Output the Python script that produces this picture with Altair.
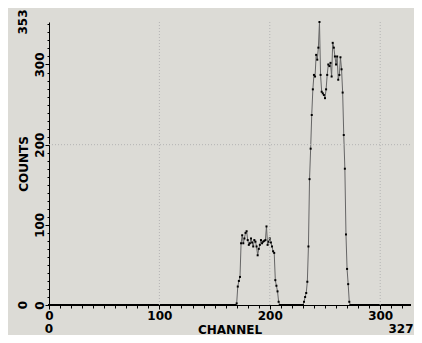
import altair as alt
import pandas as pd

# ---- data ----
n_channels = 328
peak1_start = 170
peak1_counts = [2, 23, 30, 35, 77, 87, 77, 83, 90, 92, 81, 75, 77, 83, 78, 73, 81, 79, 73, 62,
                70, 75, 81, 77, 79, 80, 81, 98, 75, 79, 83, 78, 73, 67, 65, 31, 24, 17, 4]
peak2_start = 231
peak2_counts = [4, 10, 15, 29, 73, 157, 195, 237, 269, 287, 285, 312, 306, 321, 353, 287, 266,
                264, 262, 258, 269, 287, 300, 298, 302, 285, 327, 321, 310, 300, 310, 281, 287,
                309, 294, 265, 212, 170, 88, 45, 26, 4]

x_minor_step = 10
y_minor_step = 10
x_grid = [100, 200, 300]
y_grid = [200]
x_range_labels = [0, 327]
y_range_labels = [0, 353]
x_domain = [0, 327]
y_domain = [0, 353]

counts = [0] * n_channels
for i, v in enumerate(peak1_counts):
    counts[peak1_start + i] = v
for i, v in enumerate(peak2_counts):
    counts[peak2_start + i] = v

df = pd.DataFrame({"channel": list(range(n_channels)), "counts": counts})

W, H = 361, 283
FONT = "DejaVu Sans"
ROW2 = 24  # offset of the second label row below the x axis

xscale = alt.Scale(domain=x_domain, nice=False, zero=False)
yscale = alt.Scale(domain=y_domain, nice=False, zero=False)

x_axis = alt.Axis(
    values=list(range(0, 328, x_minor_step)),
    labelExpr="datum.value % 100 === 0 ? datum.label : ''",
    tickSize={"condition": {"test": "datum.value % 100 === 0", "value": 4}, "value": 3},
    format="d", labelOverlap=False, labelFlush=False, grid=False,
    labelFont=FONT, labelFontSize=12, labelFontWeight="bold", labelColor="black",
    labelBaseline="middle", labelPadding=6,
    domainColor="black", domainWidth=1, tickColor="black",
    title="CHANNEL", titleFont=FONT, titleFontSize=12, titleFontWeight="bold",
    titleColor="black", titleBaseline="middle", titleY=ROW2,
)
y_axis = alt.Axis(
    values=list(range(0, 354, y_minor_step)),
    labelExpr="datum.value % 100 === 0 ? datum.label : ''",
    tickSize={"condition": {"test": "datum.value % 100 === 0", "value": 4}, "value": 2},
    format="d", labelOverlap=False, labelFlush=False, grid=False,
    labelFont=FONT, labelFontSize=12, labelFontWeight="bold", labelColor="black",
    labelAngle=270, labelAlign="center", labelBaseline="middle", labelPadding=6,
    domainColor="black", domainWidth=1, tickColor="black",
    title="COUNTS", titleFont=FONT, titleFontSize=12, titleFontWeight="bold",
    titleColor="black", titleAngle=270, titleBaseline="middle", titleAlign="center",
    titleX=-26, titleY=H / 2,
)

gx = alt.Chart(pd.DataFrame({"g": x_grid})).mark_rule(
    color="#b4b4b4", strokeDash=[1, 2], strokeWidth=1
).encode(x=alt.X("g:Q", scale=xscale, axis=x_axis))

gy = alt.Chart(pd.DataFrame({"g": y_grid})).mark_rule(
    color="#b4b4b4", strokeDash=[1, 2], strokeWidth=1
).encode(y=alt.Y("g:Q", scale=yscale, axis=y_axis))

line = alt.Chart(df).mark_line(color="#666666", strokeWidth=1).encode(
    x=alt.X("channel:Q", scale=xscale, axis=x_axis),
    y=alt.Y("counts:Q", scale=yscale, axis=y_axis),
)

pts = alt.Chart(df).mark_square(size=4, color="black", opacity=1).encode(
    x=alt.X("channel:Q", scale=xscale, axis=x_axis),
    y=alt.Y("counts:Q", scale=yscale, axis=y_axis),
)

def x_range_text(vals, dx):
    return alt.Chart(pd.DataFrame({"v": vals})).mark_text(
        font=FONT, fontSize=12, fontWeight="bold", color="black",
        baseline="middle", align="center", dx=dx
    ).encode(
        x=alt.X("v:Q", scale=xscale, axis=x_axis),
        y=alt.value(H + ROW2),
        text=alt.Text("v:Q", format="d"),
    )

xr0 = x_range_text(x_range_labels[:1], 0)
xr1 = x_range_text(x_range_labels[1:], -9)

yr = alt.Chart(pd.DataFrame({"v": y_range_labels})).mark_text(
    font=FONT, fontSize=12, fontWeight="bold", color="black", baseline="middle",
    align="center", angle=270
).encode(
    y=alt.Y("v:Q", scale=yscale, axis=y_axis),
    x=alt.value(-26),
    text=alt.Text("v:Q", format="d"),
)

chart = alt.layer(line, pts, gx, gy, xr0, xr1, yr).properties(
    width=W, height=H,
    autosize=alt.AutoSizeParams(type="none"),
    padding={"left": 41, "top": 14, "right": 4, "bottom": 30},
    background="#dcdbd6",
).configure_view(stroke=None)

chart.save("out.html", embed_options={"renderer": "svg", "actions": False})
